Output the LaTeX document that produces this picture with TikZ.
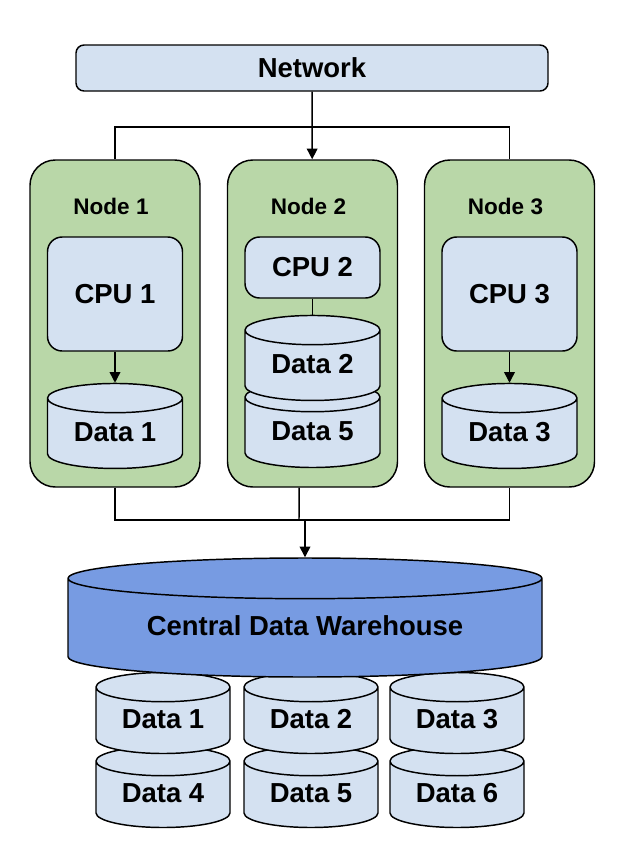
\documentclass[tikz,border=0pt]{standalone}
\usepackage{fontspec}
\setmainfont{Liberation Sans}
\usetikzlibrary{positioning,shapes.geometric,arrows.meta}

\definecolor{nodegreen}{HTML}{B9D7A8}
\definecolor{partblue}{HTML}{D4E1F1}
\definecolor{houseblue}{HTML}{779BE2}

\tikzset{
  bigfont/.style={font=\fontsize{20.6}{24}\selectfont\bfseries},
  box/.style={draw, rounded corners=11pt, fill=partblue, bigfont},
  nodebox/.style={draw, rounded corners=19pt, fill=nodegreen,
    minimum width=127.5pt, minimum height=245.25pt},
  title/.style={font=\fontsize{16.9}{20}\selectfont\bfseries},
  store/.style={cylinder, shape border rotate=90, draw, fill=partblue,
    aspect=0.32, bigfont, text height=15pt, text depth=7.5pt,
    minimum width=101.25pt, minimum height=63.75pt},
  small store/.style={store, anchor=shape center,
    minimum width=100.5pt, minimum height=60.75pt},
  arr/.style={-{Triangle[length=8pt,width=8pt]}},
}

\begin{document}
\begin{tikzpicture}[x=0.75pt, y=-0.75pt, line width=1.1pt]
  \useasboundingbox (0,0) rectangle (636,868);

  % network on top
  \node[box, rounded corners=6pt, minimum width=354pt, minimum height=34.5pt] (net) at (312,68) {Network};
  \coordinate (bus) at (312,127);

  % the three nodes
  \foreach \i/\x in {1/115,2/312.5,3/509.5} {
    \node[nodebox] (node\i) at (\x,323.5) {};
    \node[title] (title\i) at (\x-4,206) {Node \i};
  }

  \node[box, minimum width=101.25pt, minimum height=85.5pt, below=57.75pt of node1.north] (cpu1) {CPU 1};
  \node[store, below=23.25pt of cpu1] (data1) {Data 1};

  \node[box, minimum width=101.25pt, minimum height=45.75pt, below=57.75pt of node2.north] (cpu2) {CPU 2};
  \node[store, anchor=shape center] (data5) at (312.5,425) {Data 5};
  \node[store, below=12pt of cpu2] (data2) {Data 2};

  \node[box, minimum width=101.25pt, minimum height=85.5pt, below=57.75pt of node3.north] (cpu3) {CPU 3};
  \node[store, below=23.25pt of cpu3] (data3) {Data 3};

  \draw[arr] (net) -- (node2);
  \draw (node1.north) |- (bus) -| (node3.north);
  \draw[arr] (cpu1) -- (data1);
  \draw (cpu2) -- (data2);
  \draw[arr] (cpu3) -- (data3);

  % warehouse and its stores
  \foreach \i/\x in {4/163,5/311,6/457}
    \node[small store] (store\i) at (\x,787) {Data \i};
  \foreach \i/\x in {1/163,2/311,3/457}
    \node[small store] (store\i) at (\x,713) {Data \i};
  \node[store, anchor=shape center, fill=houseblue, aspect=0.125,
    minimum width=355.5pt, minimum height=89.25pt] (dw) at (305,617.5) {Central Data Warehouse};

  \coordinate (merge) at (305,520);
  \coordinate (tap) at (299,520);
  \draw (node1.south) |- (merge) -| (node3.south);
  \draw ([xshift=-10pt]node2.south) -- (tap);
  \draw[arr] (merge) -- (dw);
\end{tikzpicture}
\end{document}
